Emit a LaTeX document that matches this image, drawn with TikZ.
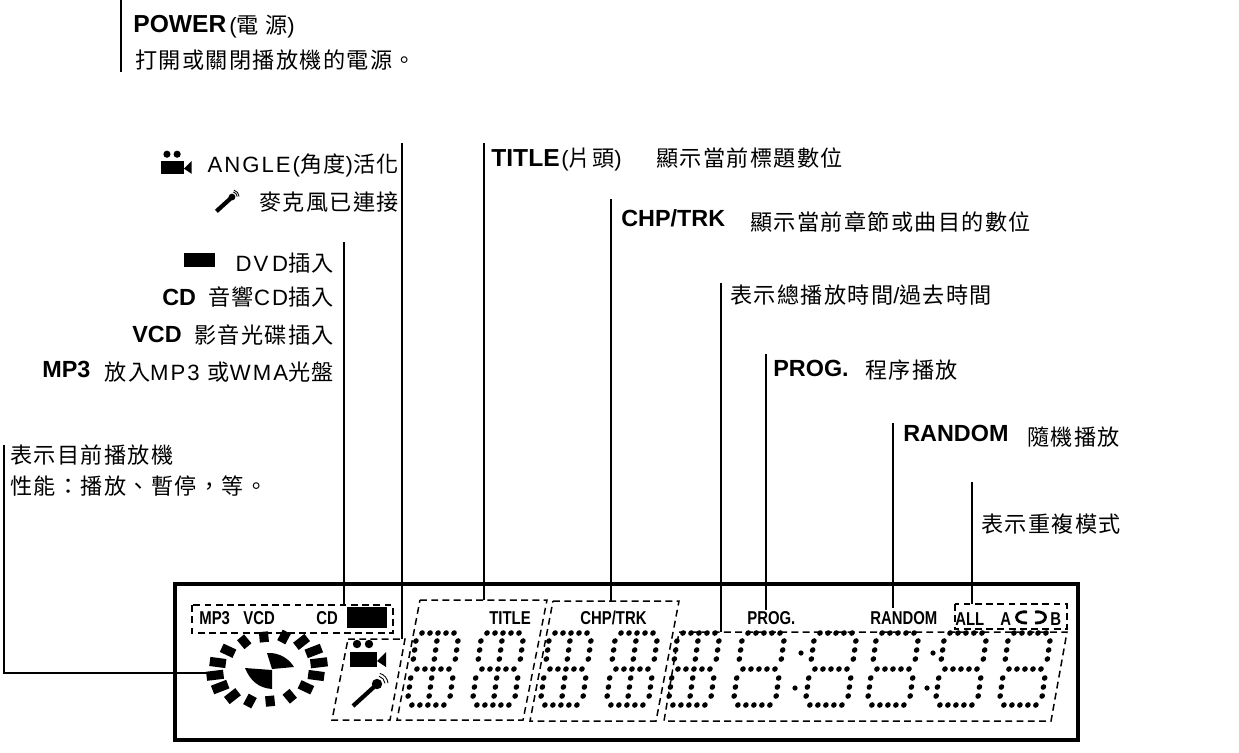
\documentclass[tikz,border=0pt]{standalone}
\usepackage{fontspec}
\setmainfont{Liberation Sans}
\newfontfamily\cjk{Noto Sans CJK TC}[LetterSpace=6]
\newfontfamily\latr{Liberation Sans}[LetterSpace=9]
\newcommand{\labelsize}{\fontsize{12.6pt}{14pt}}
\newcommand{\dotdigit}[1]{%
    \begin{scope}[shift={(#1,633)},x=0.02cm,y={(-0.0028cm,-0.02cm)}]
        \foreach \v in {0,36,72} {
            \foreach \u in {5,13,21,29,37} {\fill (\u,\v) circle[radius=2.8];}
        }
        \foreach \v in {8,17,26,45,54,63} {
            \fill (0,\v) circle[radius=2.8];
            \fill (42,\v) circle[radius=2.8];
        }
    \end{scope}
}
\newcommand{\dotdigitwide}[1]{%
    \dotdigit{#1}
    \begin{scope}[shift={(#1,633)},x=0.02cm,y={(-0.0028cm,-0.02cm)}]
        \foreach \v in {8,17,26,45,54,63} {\fill (21,\v) circle[radius=2.8];}
    \end{scope}
}
\tikzset{
    leaderline/.style={line width=1pt, black},
    dashbox/.style={line width=0.85pt, dash pattern=on 3.9pt off 2.5pt},
    boldtext/.style={inner sep=0pt, font=\fontsize{13.3pt}{15pt}\bfseries},
    bighead/.style={inner sep=0pt, font=\fontsize{14pt}{16pt}\bfseries},
    cjktext/.style={inner sep=0pt, font=\labelsize\cjk},
    lcdlabel/.style={inner sep=0pt, font=\fontsize{10.6pt}{12pt}\bfseries},
    camicon/.pic={
        \fill (0,0) rectangle (27,15);
        \fill (27,9) -- (36,0) -- (36,15) -- cycle;
        \fill (7,-8) circle[radius=4.2];
        \fill (19,-8) circle[radius=4.2];
    },
    micicon/.pic={
        \fill (0,0) circle[radius=5.2];
        \draw[line width=2.4pt] (-2,2) -- (-24,22);
        \draw[line width=0.5pt] (-75:8) arc[start angle=-75, end angle=-5, radius=8];
        \draw[line width=0.5pt] (-75:11) arc[start angle=-75, end angle=-5, radius=11];
    }
}
\begin{document}
\begin{tikzpicture}[x=0.02cm,y=-0.02cm]
    \useasboundingbox (0,0) rectangle (1239,752);

    % Linea superior
    \node[bighead, anchor=base west] (powerhead) at (133,32) {POWER};
    \node[cjktext, anchor=base west] (powername) at (229,33) {{\latr (}電 源{\latr )}};
    \node[cjktext, anchor=base west] (powertext) at (135,68) {打開或關閉播放機的電源。};

    % Lineas guia
    \foreach \name/\x/\ya/\yb in {power/121/0/72, angle/402/143/639, disc/344/242/605,
        title/484/143/600, chptrk/611/199/601, total/721/283/632, prog/766/354/610,
        random/893/423/608, repeat/972/482/604} {
        \coordinate (\name top) at (\x,\ya);
        \coordinate (\name end) at (\x,\yb);
        \draw[leaderline] (\name top) -- (\name end);
    }
    \coordinate (statetop) at (4,445);
    \coordinate (statecorner) at (4,673);
    \coordinate (stateend) at (217,673);
    \draw[leaderline] (statetop) -- (statecorner) -- (stateend);

    % Etiquetas izquierda
    \node[cjktext, anchor=base east] (angletext) at (399,172) {{\latr ANGLE(}角度{\latr )}活化};
    \node[cjktext, anchor=base east] (mictext) at (399,210) {麥克風已連接};
    \pic[scale=0.85] at (161,161) {camicon};
    \pic[scale=0.65] at (232,197) {micicon};

    \node[cjktext, anchor=base east] (dvdtext) at (334,271) {{\latr DV\,D}插入};
    \node[cjktext, anchor=base east] (cdtext) at (334,305) {音響{\latr CD}插入};
    \node[cjktext, anchor=base east] (vcdtext) at (334,343) {影音光碟插入};
    \node[cjktext, anchor=base east] (mptext) at (334,380) {放入{\latr MP3 }或{\latr WMA}光盤};
    \fill (184,253) rectangle (215,267);
    \node[boldtext, anchor=base west] (cdhead) at (162,305) {CD};
    \node[boldtext, anchor=base west] (vcdhead) at (132,342) {VCD};
    \node[boldtext, anchor=base west] (mphead) at (42,377) {MP3};

    \node[cjktext, anchor=base west] (statetext) at (10,463) {表示目前播放機};
    \node[cjktext, anchor=base west] (statemore) at (10,494) {性能：播放、暫停，等。};

    % Etiquetas derecha
    \node[bighead, anchor=base west] (titlehead) at (491,166) {TITLE};
    \node[cjktext, anchor=base west] (titlename) at (561,166) {{\latr (}片頭{\latr )}};
    \node[cjktext, anchor=base west] (titletext) at (656,166) {顯示當前標題數位};
    \node[boldtext, anchor=base west] (chptrklabel) at (621,226) {CHP/TRK};
    \node[cjktext, anchor=base west] (chptrktext) at (750,230) {顯示當前章節或曲目的數位};
    \node[cjktext, anchor=base west] (totaltext) at (730,303) {表示總播放時間{\latr /}過去時間};
    \node[boldtext, anchor=base west] (proghead) at (773,376) {PROG.};
    \node[cjktext, anchor=base west] (progtext) at (865,378) {程序播放};
    \node[boldtext, anchor=base west] (randomhead) at (903,441) {RANDOM};
    \node[cjktext, anchor=base west] (randomtext) at (1027,445) {隨機播放};
    \node[cjktext, anchor=base west] (repeattext) at (981,532) {表示重複模式};

    % Pantalla
    \draw[line width=1.8pt] (175,584) rectangle (1078,740);
    \draw[dashbox] (192,605) rectangle (393,633);
    \draw[dashbox] (348,639) -- (405,639) -- (390,720) -- (332,720) -- cycle;
    \draw[dashbox] (420,600) -- (547,600) -- (523,720) -- (397,720) -- cycle;
    \draw[dashbox] (553,601) -- (679,601) -- (656,721) -- (530,721) -- cycle;
    \draw[dashbox] (679,632) -- (1067,632) -- (1051,721) -- (664,721) -- cycle;
    \draw[dashbox] (955,604) rectangle (1067,629);

    % Textos de pantalla
    \node[lcdlabel, anchor=base west] (lcdmp) at (199,624) {\scalebox{0.8}[1]{MP3}};
    \node[lcdlabel, anchor=base west] (lcdvcd) at (243,624) {\scalebox{0.8}[1]{VCD}};
    \node[lcdlabel, anchor=base west] (lcdcd) at (316,624) {\scalebox{0.8}[1]{CD}};
    \fill (347,607) rectangle (387,628);
    \node[lcdlabel, anchor=base west] (lcdtitle) at (489,624) {\scalebox{0.8}[1]{TITLE}};
    \node[lcdlabel, anchor=base west] (lcdchp) at (580,624) {\scalebox{0.8}[1]{CHP/TRK}};
    \node[lcdlabel, anchor=base west] (lcdprog) at (747,624) {\scalebox{0.8}[1]{PROG.}};
    \node[lcdlabel, anchor=base west] (lcdrandom) at (870,624) {\scalebox{0.8}[1]{RANDOM}};
    \node[lcdlabel, anchor=base west] (lcdall) at (955,625) {\scalebox{0.8}[1]{ALL}};
    \node[lcdlabel, anchor=base west] (lcda) at (1000,625) {\scalebox{0.8}[1]{A}};
    \node[lcdlabel, anchor=base west] (lcdb) at (1050,625) {\scalebox{0.8}[1]{B}};
    \draw[line width=1.6pt] (1027,612) .. controls (1013,610) and (1013,624) .. (1027,623);
    \draw[line width=1.6pt] (1035,612) .. controls (1049,610) and (1049,624) .. (1035,623);

    % Disco
    \begin{scope}[shift={(267,669)},x=1.2cm,y={(0.16cm,0.76cm)}]
        \foreach \a in {11,33.5,...,350} {
            \draw[line width=5.2pt] (\a:0.72) -- (\a:1);
        }
    \end{scope}
    \fill (267,653) .. controls (280,652) and (290,660) .. (294,667) -- (272,669) -- cycle;
    \fill (245,668) -- (272,670) -- (272,689) .. controls (258,688) and (250,680) .. (245,668) -- cycle;

    % Iconos de pantalla
    \pic at (350,652) {camicon};
    \pic at (377,684) {micicon};

    % Digitos
    \foreach \x in {417,482,550,616,678} {\dotdigitwide{\x}}
    \foreach \x in {743,815,877,945,1009} {\dotdigit{\x}}
    \foreach \x/\y in {801/653,795/688,933/653,927/688} {
        \fill (\x,\y) circle[radius=2.6];
    }
\end{tikzpicture}
\end{document}
